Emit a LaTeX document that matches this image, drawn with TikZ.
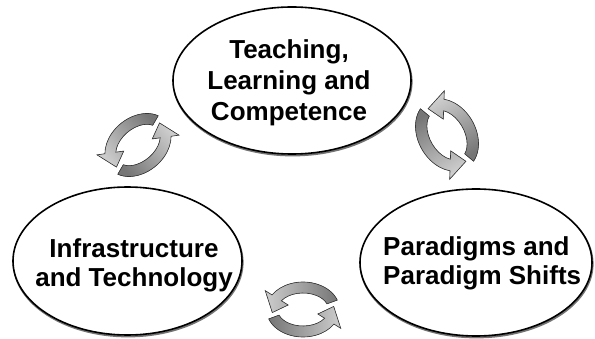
\documentclass[tikz,border=0pt]{standalone}
\usepackage{fontspec}
\setmainfont{Liberation Sans}
\usetikzlibrary{shapes.geometric}

\definecolor{arrowlight}{RGB}{205,205,205}
\definecolor{arrowdark}{RGB}{118,118,118}
\definecolor{arrowedge}{RGB}{55,55,55}

\tikzset{
  bubble/.style={ellipse, draw=black, line width=1.6pt, fill=white, inner sep=0pt},
  bubbleshadow/.style={draw=black!55, line width=2pt},
  caption/.style={font=\bfseries\fontsize{26}{#1}\selectfont, inner sep=0pt, text=black},
  cyclearrow/.style={draw=arrowedge, line width=0.6pt, line join=miter},
}

% one bent arrow of a cycle: options, tail angle, end of body, tip angle
\newcommand{\cyclearc}[4]{%
  \filldraw[cyclearrow,#1]
    (#2:36.5 and 27.5) arc[start angle=#2, end angle=#3, x radius=36.5, y radius=27.5]
    -- (#3:44.5 and 35.5) -- (#4:31 and 22) -- (#3:17.5 and 8.5) -- (#3:25.5 and 16.5)
    arc[start angle=#3, end angle=#2, x radius=25.5, y radius=16.5] -- cycle;}

% a pair of bent arrows chasing each other: centre x, centre y, rotation, scale
\newcommand{\cyclepair}[4]{%
  \begin{scope}[shift={(#1,#2)}, rotate=#3, scale=#4]
    \cyclearc{left color=arrowlight, right color=arrowdark, shading angle=90+#3}{20}{148}{188}
    \cyclearc{left color=arrowdark, right color=arrowlight, shading angle=90+#3}{200}{328}{368}
  \end{scope}}

\begin{document}
\begin{tikzpicture}[x=1pt, y=1pt]
  \useasboundingbox (0,0) rectangle (595,338);

  % soft shadows under the three ellipses
  \draw[bubbleshadow] (292.6,256.1) ellipse [x radius=119, y radius=73.5];
  \draw[bubbleshadow] (128.1,75.6) ellipse [x radius=114.5, y radius=74];
  \draw[bubbleshadow] (476.6,74.1) ellipse [x radius=116, y radius=73.5];

  % the three themes
  \node[bubble, minimum width=238pt, minimum height=147pt] (teach) at (292,257.5) {};
  \node[bubble, minimum width=229pt, minimum height=148pt] (infra) at (127.5,77) {};
  \node[bubble, minimum width=232pt, minimum height=147pt] (para) at (476,75.5) {};

  \node[caption=31, align=center] (teachtext) at (289,255.5) {Teaching,\\Learning and\\Competence};
  \node[caption=29, align=center] (infratext) at (134,73) {Infrastructure\\and Technology};
  \node[caption=29, align=left, anchor=west] (paratext) at (383,75) {Paradigms and\\Paradigm Shifts};

  % cycles between each pair of themes
  \cyclepair{138}{193}{40}{1}
  \cyclepair{447}{203}{-60}{1.05}
  \cyclepair{303}{28.5}{0}{1}
\end{tikzpicture}
\end{document}
